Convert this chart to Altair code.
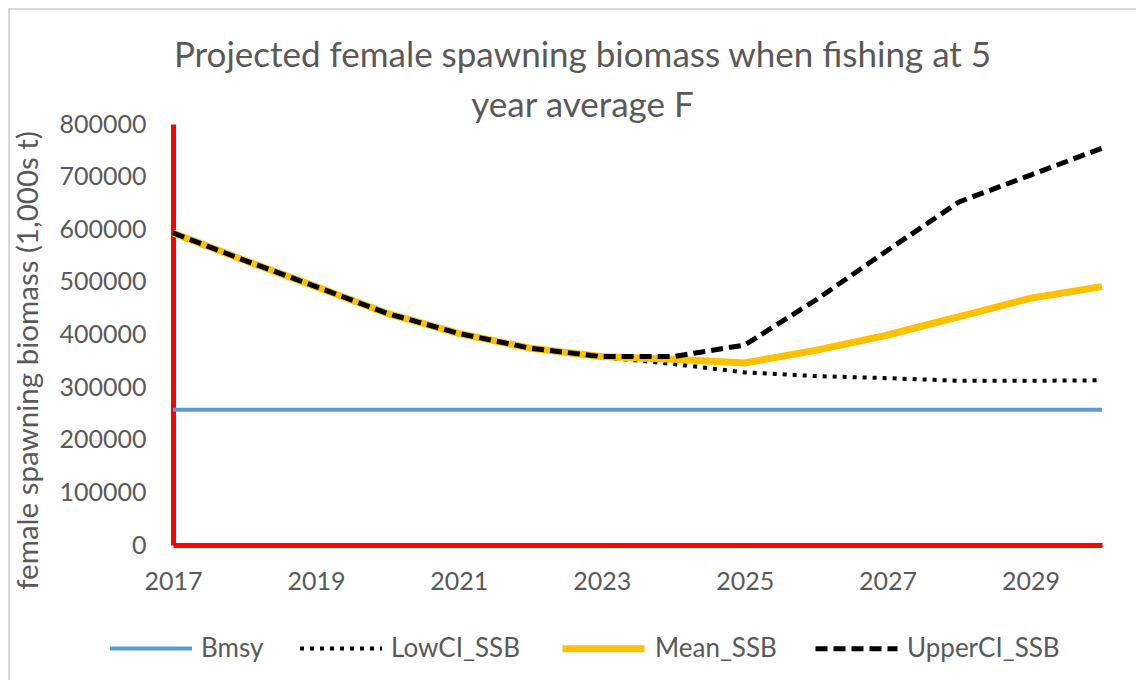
import altair as alt
import pandas as pd

years = list(range(2017, 2031))
bmsy = [257000] * 14
low_ci = [593000, 541000, 491000, 440000, 402000, 374000, 357000, 344000, 328000, 321000, 317000, 312000, 312000, 313000]
mean_ssb = [593000, 541000, 491000, 440000, 402000, 374000, 358000, 353000, 346000, 370000, 399000, 434000, 469000, 491000]
upper_ci = [593000, 541000, 491000, 440000, 402000, 374000, 358000, 358000, 380000, 466000, 560000, 652000, 703000, 754000]

series_names = ["Bmsy", "LowCI_SSB", "Mean_SSB", "UpperCI_SSB"]
series_colors = ["#5B9BD5", "#000000", "#FFC000", "#000000"]
series_dash = [[1, 0], [4, 6], [1, 0], [12, 6]]
series_width = [4, 4, 7, 5]

rows = []
for name, vals in zip(series_names, [bmsy, low_ci, mean_ssb, upper_ci]):
    for y, v in zip(years, vals):
        rows.append({"year": y, "value": v, "series": name})
df = pd.DataFrame(rows)

FONT = "Lato"
GRAY = "#595959"

lines = alt.Chart(df).mark_line().encode(
    x=alt.X("year:Q", scale=alt.Scale(domain=[2017, 2030], nice=False, zero=False),
            axis=alt.Axis(values=list(range(2017, 2030, 2)), format="d", title=None,
                          domainColor="#FF0000", domainWidth=5, ticks=False, grid=False,
                          labelFlush=False, labelOverlap=False,
                          labelPadding=24, labelFontSize=25, labelColor=GRAY, labelFont=FONT)),
    y=alt.Y("value:Q", scale=alt.Scale(domain=[0, 800000], nice=False),
            axis=alt.Axis(values=list(range(0, 800001, 100000)), format="d",
                          title="female spawning biomass (1,000s t)",
                          titleFontSize=29.5, titleFont=FONT, titleColor=GRAY, titleFontWeight="normal",
                          titleX=-145, titleY=236, titleAngle=270, titleAlign="center", titleBaseline="middle",
                          domainColor="#FF0000", domainWidth=5, ticks=False, grid=False,
                          labelFlush=False, labelOverlap=False,
                          labelPadding=27, labelFontSize=25, labelColor=GRAY, labelFont=FONT)),
    color=alt.Color("series:N", scale=alt.Scale(domain=series_names, range=series_colors),
                    legend=alt.Legend(title=None)),
    strokeDash=alt.StrokeDash("series:N", scale=alt.Scale(domain=series_names, range=series_dash),
                              legend=alt.Legend(title=None)),
    strokeWidth=alt.StrokeWidth("series:N", scale=alt.Scale(type="ordinal", domain=series_names, range=series_width),
                                legend=alt.Legend(title=None)),
)

frame = alt.Chart(pd.DataFrame({"a": [0]})).mark_rect(fill=None, stroke="#D9D9D9", strokeWidth=2).encode(
    x=alt.value(-164), x2=alt.value(1100), y=alt.value(-115), y2=alt.value(700)
)

chart = alt.layer(frame, lines).properties(
    width=929, height=421,
    title=alt.TitleParams(
        text=["Projected female spawning biomass when fishing at 5", "year average F"],
        fontSize=35, font=FONT, color=GRAY, fontWeight="normal", lineHeight=50,
        anchor="middle", frame="group", orient="top", baseline="alphabetic", dx=-55, dy=144, offset=0,
    ),
    autosize=alt.AutoSizeParams(type="none"),
    padding={"left": 165, "top": 116, "right": 34, "bottom": 135},
).configure_view(stroke=None).configure_legend(
    orient="none", legendX=-65, legendY=480, direction="horizontal",
    symbolType="stroke", symbolSize=6724, labelFontSize=26, labelFont=FONT, labelColor=GRAY,
    columnPadding=28, labelOffset=7, labelLimit=400
)

chart.save("out.html", embed_options={"renderer": "svg", "actions": False})
